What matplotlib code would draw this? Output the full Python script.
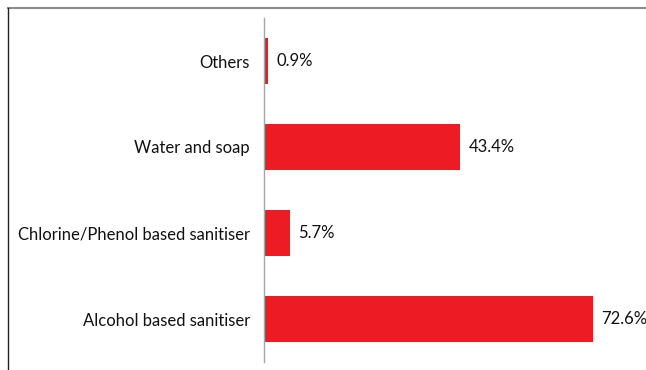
import matplotlib.pyplot as plt
from matplotlib.lines import Line2D

# Hand hygiene products used
categories = ['Alcohol based sanitiser', 'Chlorine/Phenol based sanitiser', 'Water and soap', 'Others']
percentages = [72.6, 5.7, 43.4, 0.9]

plt.rcParams['font.family'] = ['Lato', 'DejaVu Sans']

W, H = 646, 370
fig = plt.figure(figsize=(W / 100, H / 100), dpi=100)
ax = fig.add_axes([264 / W, 8 / H, 362 / W, 344 / H])

positions = range(len(categories))
ax.barh(positions, percentages, height=0.54, color='#ed1c24', edgecolor='none')

for y, val in zip(positions, percentages):
    ax.text(val + 1.8, y, f'{val}%', va='center', ha='left', fontsize=12, color='#111111')

ax.set_yticks(list(positions))
ax.set_yticklabels(categories, fontsize=12, color='#111111')
ax.tick_params(axis='y', length=0, pad=10)
ax.set_xticks([])
ax.set_xlim(0, 80)
ax.set_ylim(-0.5, 3.5)

for side in ['top', 'right', 'bottom']:
    ax.spines[side].set_visible(False)
ax.spines['left'].set_color('#a6a6a6')
ax.spines['left'].set_linewidth(1.0)

# outer frame (top and left edges only)
fig.add_artist(Line2D([8 / W, 1], [1 - 8 / H, 1 - 8 / H], transform=fig.transFigure,
                      color='#8c8c8c', linewidth=1.5))
fig.add_artist(Line2D([8 / W, 8 / W], [0, 1 - 8 / H], transform=fig.transFigure,
                      color='#222222', linewidth=1.0))

fig.savefig('out.png', dpi=100)
